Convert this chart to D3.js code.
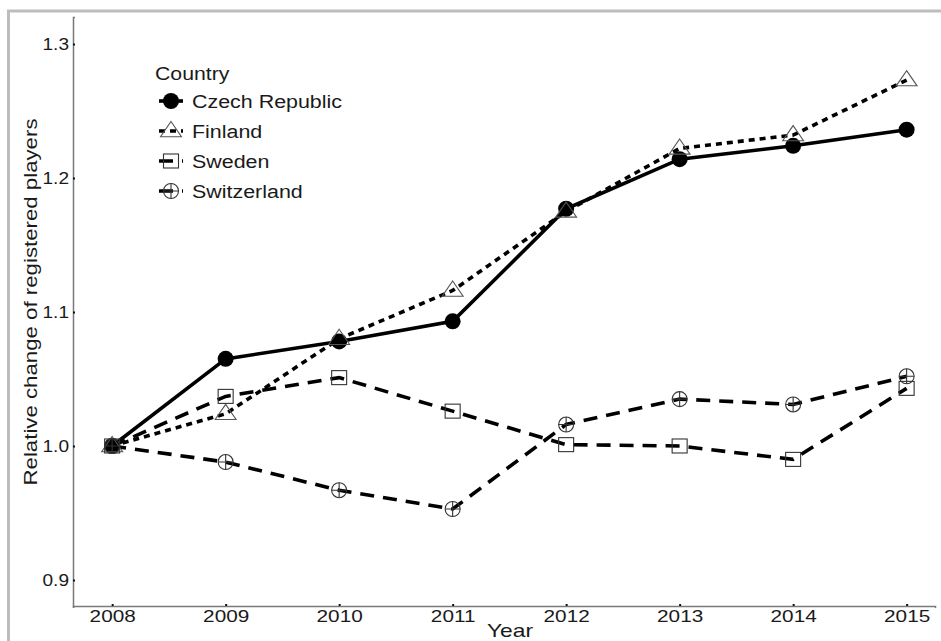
<!DOCTYPE html>
<html>
<head>
<meta charset="utf-8">
<script src="https://cdn.jsdelivr.net/npm/d3@7"></script>
<style>
  body { margin: 0; background: #fff; }
  svg text { font-family: "Liberation Sans", Arial, sans-serif; }
</style>
</head>
<body>
<svg id="chart" width="941" height="641"></svg>
<script>
const years = [2008, 2009, 2010, 2011, 2012, 2013, 2014, 2015];
const yTicks = [0.9, 1.0, 1.1, 1.2, 1.3];
const countries = ["Czech Republic", "Finland", "Sweden", "Switzerland"];

const czech = [1.000, 1.065, 1.078, 1.093, 1.177, 1.214, 1.224, 1.236];
const finland = [1.000, 1.024, 1.080, 1.116, 1.175, 1.222, 1.232, 1.273];
const sweden = [1.000, 1.037, 1.051, 1.026, 1.001, 1.000, 0.990, 1.043];
const switzerland = [1.000, 0.988, 0.967, 0.953, 1.016, 1.035, 1.031, 1.052];

const seriesValues = [czech, finland, sweden, switzerland];
const dashes = [null, "6,5", "14,9", "14,9"];
const shapes = ["circle", "triangle", "square", "circleplus"];

const svg = d3.select("#chart");
const width = 941, height = 641;
const margin = {top: 17, right: 6, bottom: 35, left: 73};

// the source image is stretched sideways, so widen the text a bit
function stretch(sel, f) {
  sel.each(function () {
    const w = this.getComputedTextLength();
    d3.select(this).attr("textLength", w * f).attr("lengthAdjust", "spacingAndGlyphs");
  });
}

// outer frame
svg.append("line").attr("x1", 8.5).attr("x2", 8.5).attr("y1", 10).attr("y2", height)
  .attr("stroke", "#bdbdbd").attr("stroke-width", 3);
svg.append("line").attr("x1", 7).attr("x2", width).attr("y1", 11).attr("y2", 11)
  .attr("stroke", "#bdbdbd").attr("stroke-width", 3);

const x = d3.scaleLinear()
  .domain([2007.655, 2015.25])
  .range([margin.left, width - margin.right]);

const y = d3.scaleLinear()
  .domain([0.8806, 1.3201])
  .range([height - margin.bottom, margin.top]);

// Axes
const xAxis = svg.append("g")
  .attr("transform", `translate(0,${height - margin.bottom})`)
  .call(d3.axisBottom(x).tickValues(years).tickFormat(d3.format("d")).tickSize(2).tickPadding(2));
const yAxis = svg.append("g")
  .attr("transform", `translate(${margin.left},0)`)
  .call(d3.axisLeft(y).tickValues(yTicks).tickFormat(d3.format(".1f")).tickSize(-2).tickPadding(4));

[xAxis, yAxis].forEach(g => {
  g.select(".domain").attr("stroke", "#7a7a7a").attr("stroke-width", 1.5);
  g.selectAll(".tick line").attr("stroke", "#111").attr("stroke-width", 2);
  g.selectAll(".tick text").attr("fill", "#1a1a1a").style("font-size", "17px");
});
xAxis.selectAll(".tick line").attr("y1", -2).attr("y2", 0);
stretch(xAxis.selectAll(".tick text"), 1.22);
stretch(yAxis.selectAll(".tick text"), 1.12);

// Lines
const line = d3.line()
  .x((d, i) => x(years[i]))
  .y(d => y(d));

function drawShape(g, shape, cx, cy) {
  if (shape === "circle") {
    g.append("circle").attr("cx", cx).attr("cy", cy).attr("r", 8).attr("fill", "#000");
  } else if (shape === "triangle") {
    const s = 9.5;
    g.append("path")
      .attr("d", `M${cx},${cy - s} L${cx + s * 1.1},${cy + s * 0.6} L${cx - s * 1.1},${cy + s * 0.6} Z`)
      .attr("fill", "none").attr("stroke", "#555").attr("stroke-width", 1.1);
  } else if (shape === "square") {
    g.append("rect").attr("x", cx - 7.5).attr("y", cy - 7).attr("width", 15).attr("height", 14)
      .attr("fill", "none").attr("stroke", "#333").attr("stroke-width", 1.1);
  } else {
    g.append("circle").attr("cx", cx).attr("cy", cy).attr("r", 7.5)
      .attr("fill", "none").attr("stroke", "#333").attr("stroke-width", 1.1);
    g.append("path")
      .attr("d", `M${cx - 7.5},${cy} H${cx + 7.5} M${cx},${cy - 7.5} V${cy + 7.5}`)
      .attr("stroke", "#333").attr("stroke-width", 1.1);
  }
}

const plot = svg.append("g");
seriesValues.forEach((vals, k) => {
  plot.append("path")
    .datum(vals)
    .attr("d", line)
    .attr("fill", "none")
    .attr("stroke", "#000")
    .attr("stroke-width", 3.6)
    .attr("stroke-dasharray", dashes[k]);
});
seriesValues.forEach((vals, k) => {
  const g = plot.append("g");
  vals.forEach((v, i) => drawShape(g, shapes[k], x(years[i]), y(v)));
});

// Axis titles
const xTitle = svg.append("text")
  .attr("x", 510)
  .attr("y", 637)
  .attr("text-anchor", "middle")
  .style("font-size", "19px")
  .attr("fill", "#1a1a1a")
  .text("Year");
stretch(xTitle, 1.2);

const yTitle = svg.append("text")
  .attr("transform", "rotate(-90)")
  .attr("x", -302)
  .attr("y", 37)
  .attr("text-anchor", "middle")
  .style("font-size", "19px")
  .attr("fill", "#1a1a1a")
  .text("Relative change of registered players");
stretch(yTitle, 1.17);

// Legend
const legend = svg.append("g").attr("transform", "translate(155,0)");
const legTitle = legend.append("text").attr("x", 0).attr("y", 80)
  .style("font-size", "18px").attr("fill", "#1a1a1a").text("Country");
stretch(legTitle, 1.18);
countries.forEach((c, k) => {
  const cy = 101 + k * 30;
  legend.append("line")
    .attr("x1", 4).attr("x2", 28).attr("y1", cy).attr("y2", cy)
    .attr("stroke", "#000").attr("stroke-width", 3.6)
    .attr("stroke-dasharray", dashes[k]);
  drawShape(legend, shapes[k], 16, cy);
  const t = legend.append("text").attr("x", 37).attr("y", cy + 6.5)
    .style("font-size", "18px").attr("fill", "#1a1a1a").text(c);
  stretch(t, 1.19);
});
</script>
</body>
</html>
